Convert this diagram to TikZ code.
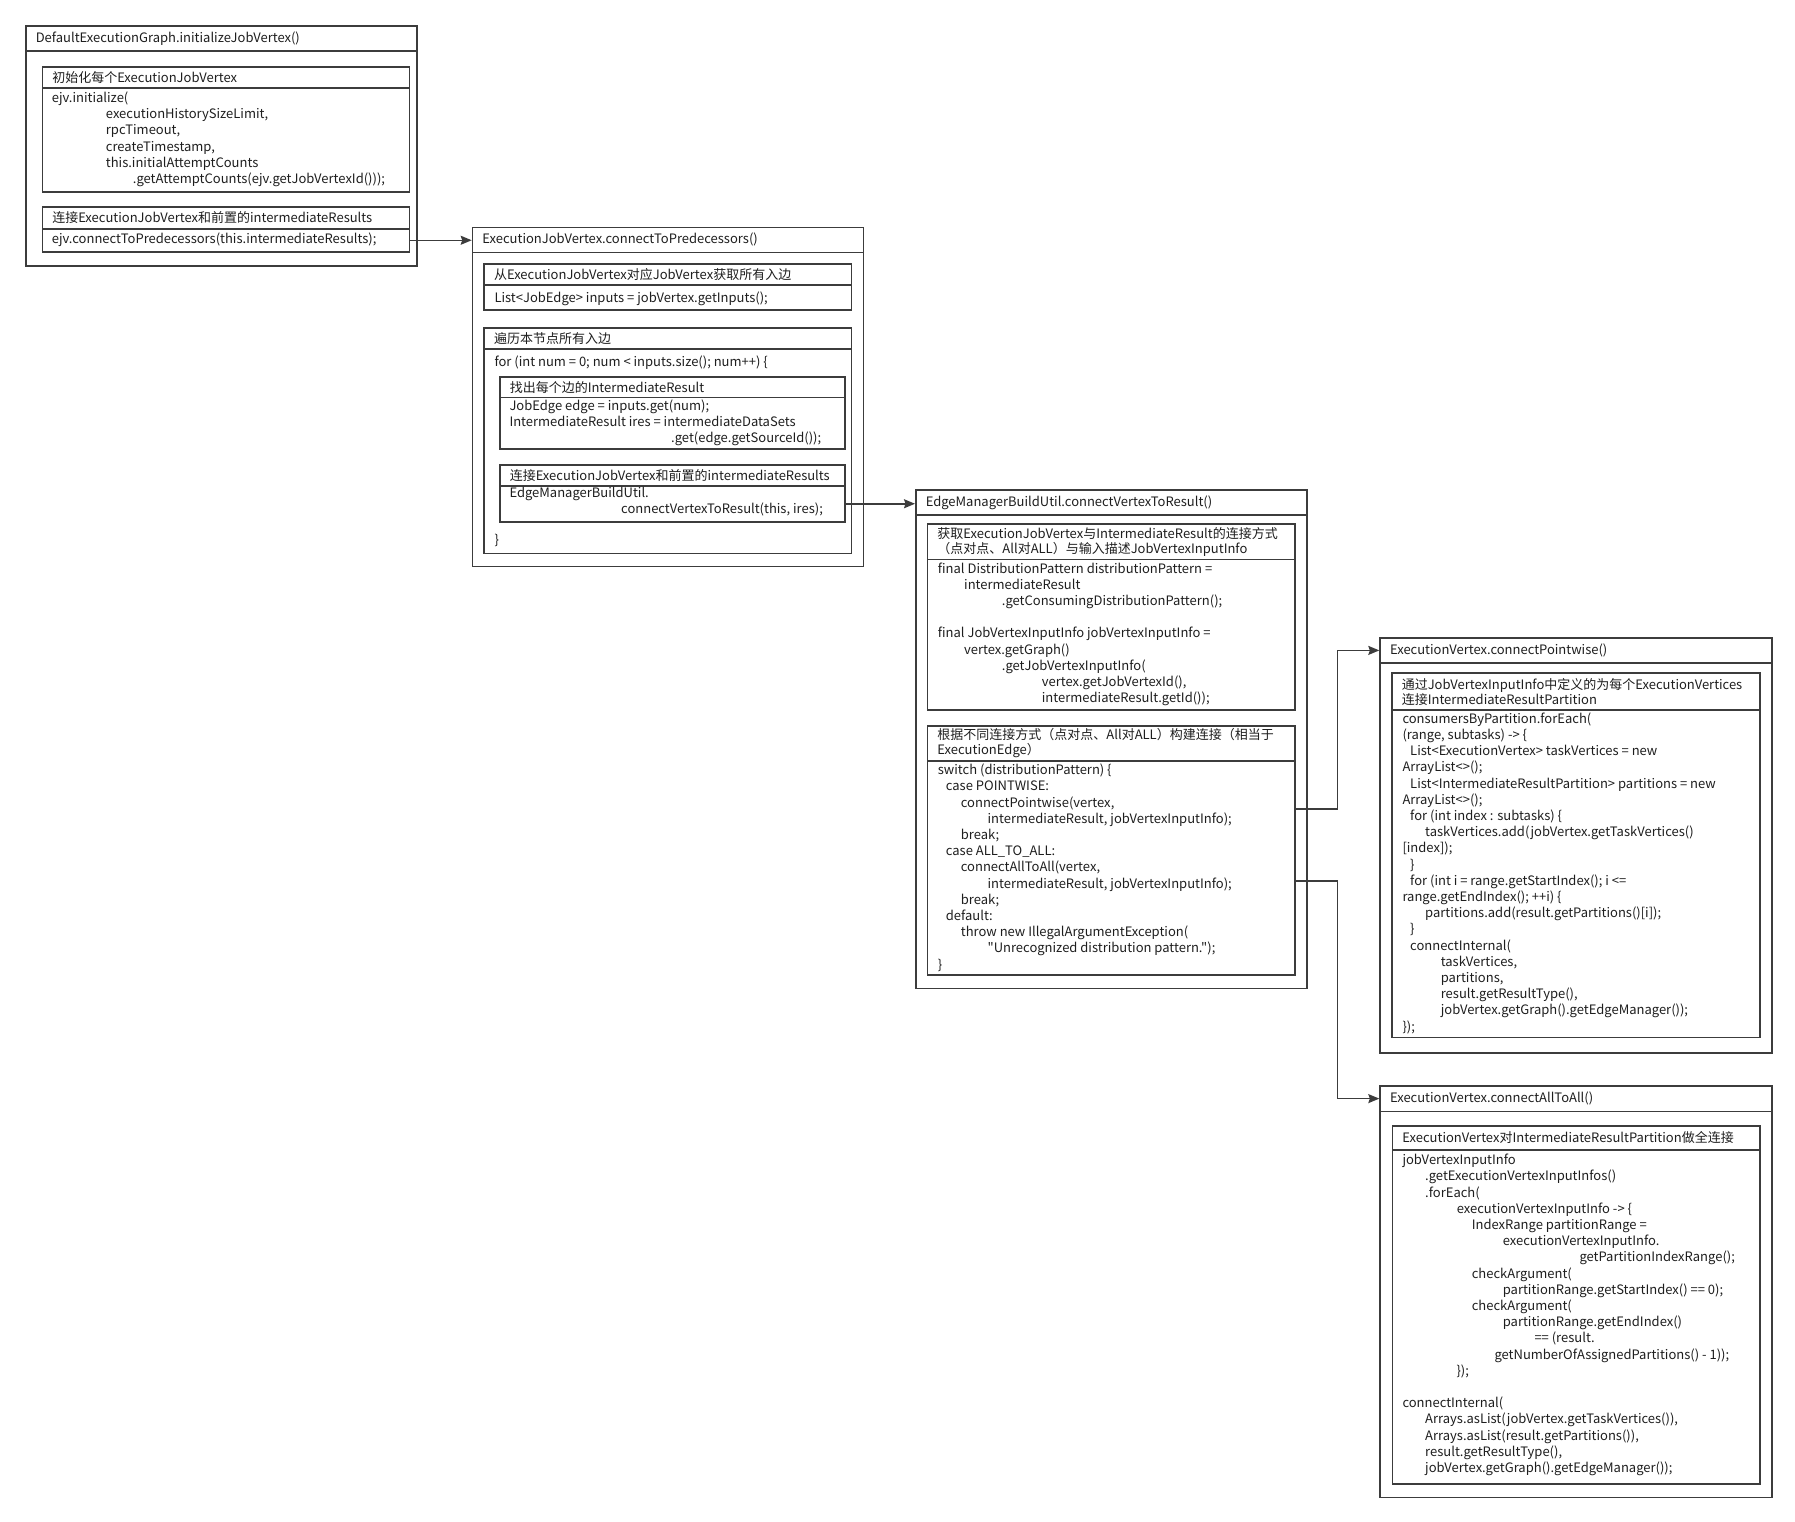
\documentclass[tikz,border=0pt]{standalone}
\usepackage{fontspec}
\setmainfont{Noto Sans CJK SC}[Ligatures=TeXOff]
\usetikzlibrary{arrows.meta}
\definecolor{linec}{HTML}{3C3C3C}
\definecolor{txtc}{HTML}{1E1E1E}
\newcommand{\indt}[1]{\hspace*{#1pt}}
\tikzset{
frame/.style={rectangle, draw=linec, line width=1.5pt, anchor=north west, inner sep=0pt},
head/.style={frame, inner xsep=10pt, inner ysep=0pt, align=left, text=txtc, font=\fontsize{13}{15}\selectfont},
code/.style={anchor=north west, yshift=11.34pt, inner sep=0pt, align=left, text=txtc, font=\fontsize{13}{16.2}\selectfont, execute at begin node=\strut},
line/.style={draw=linec, line width=1.5pt, -{Stealth[length=11pt, width=9pt, inset=1.5pt]}}
}

\begin{document}
\begin{tikzpicture}[x=1pt, y=-1pt]
    \useasboundingbox (0,0) rectangle (1795,1521);
    % initializeJobVertex
    \node [frame, minimum width=391pt, minimum height=240pt] (initjv) at (25,25) {};
    \node [head, text width=371pt, minimum height=25pt] (initjv-t) at (25,25) {DefaultExecutionGraph.initializeJobVertex()};
    \node [head, text width=347pt, minimum height=21pt] (initeach-t) at (41.5,66) {初始化每个ExecutionJobVertex};
    \node [frame, minimum width=367pt, minimum height=104pt] (initeach) at (41.5,87) {};
    \node [code] (initeach-c) at (51.7,103) {ejv.initialize(\\
        \indt{54}executionHistorySizeLimit,\\
        \indt{54}rpcTimeout,\\
        \indt{54}createTimestamp,\\
        \indt{54}this.initialAttemptCounts\\
        \indt{81}.getAttemptCounts(ejv.getJobVertexId()));};
    \node [head, text width=347pt, minimum height=22pt] (connpred-t) at (41.5,206) {连接ExecutionJobVertex和前置的intermediateResults};
    \node [frame, minimum width=367pt, minimum height=23pt] (connpred) at (41.5,228) {};
    \node [code] (connpred-c) at (51.7,243.5) {ejv.connectToPredecessors(this.intermediateResults);};

    % connectToPredecessors
    \node [frame, minimum width=391pt, minimum height=339pt] (predjv) at (471.7,226.7) {};
    \node [head, text width=371pt, minimum height=25pt] (predjv-t) at (471.7,226.7) {ExecutionJobVertex.connectToPredecessors()};
    \node [head, text width=347.4pt, minimum height=20.7pt] (inputs-t) at (483.3,263.3) {从ExecutionJobVertex对应JobVertex获取所有入边};
    \node [frame, minimum width=367.4pt, minimum height=25pt] (inputs) at (483.3,284) {};
    \node [code] (inputs-c) at (494.3,301.8) {List<JobEdge> inputs = jobVertex.getInputs();};
    \node [head, text width=347.4pt, minimum height=20.7pt] (loop-t) at (483.3,327.3) {遍历本节点所有入边};
    \node [frame, minimum width=367.4pt, minimum height=204.7pt] (loop) at (483.3,348) {};
    \node [code] (loop-c) at (494.3,366) {for (int num = 0; num < inputs.size(); num++) \{};
    \node [code] (loop-e) at (494.3,544.5) {\}};
    \node [head, text width=325.3pt, minimum height=20.7pt] (ires-t) at (499,376) {找出每个边的IntermediateResult};
    \node [frame, minimum width=345.3pt, minimum height=51.6pt] (ires) at (499,396.7) {};
    \node [code] (ires-c) at (509.3,411) {JobEdge edge = inputs.get(num);\\
        IntermediateResult ires = intermediateDataSets\\
        \indt{161.7}.get(edge.getSourceId());};
    \node [head, text width=325.3pt, minimum height=21pt] (vtores-t) at (499,464) {连接ExecutionJobVertex和前置的intermediateResults};
    \node [frame, minimum width=345.3pt, minimum height=36pt] (vtores) at (499,485) {};
    \node [code] (vtores-c) at (509.3,498.5) {EdgeManagerBuildUtil.\\
        \indt{111.7}connectVertexToResult(this, ires);};

    % connectVertexToResult
    \node [frame, minimum width=391pt, minimum height=498.4pt] (buildutil) at (915,489.3) {};
    \node [head, text width=371pt, minimum height=24.7pt] (buildutil-t) at (915,489.3) {EdgeManagerBuildUtil.connectVertexToResult()};
    \node [head, text width=347.6pt, minimum height=35.4pt] (pattern-t) at (926.7,523.3) {获取ExecutionJobVertex与IntermediateResult的连接方式\\（点对点、All对ALL）与输入描述JobVertexInputInfo};
    \node [frame, minimum width=367.6pt, minimum height=150.6pt] (pattern) at (926.7,558.7) {};
    \node [code] (pattern-c) at (937.7,573.8) {final DistributionPattern distributionPattern =\\
        \indt{26.3}intermediateResult\\
        \indt{64}.getConsumingDistributionPattern();\\
        \mbox{}\\
        final JobVertexInputInfo jobVertexInputInfo =\\
        \indt{26.3}vertex.getGraph()\\
        \indt{64}.getJobVertexInputInfo(\\
        \indt{104}vertex.getJobVertexId(),\\
        \indt{104}intermediateResult.getId());};
    \node [head, text width=347.6pt, minimum height=34.7pt] (dispatch-t) at (926.7,725.3) {根据不同连接方式（点对点、All对ALL）构建连接（相当于\\ExecutionEdge）};
    \node [frame, minimum width=367.6pt, minimum height=214.3pt] (dispatch) at (926.7,760) {};
    \node [code] (dispatch-c) at (937.7,775.2) {switch (distributionPattern) \{\\
        \indt{8}case POINTWISE:\\
        \indt{23}connectPointwise(vertex,\\
        \indt{49.7}intermediateResult, jobVertexInputInfo);\\
        \indt{23}break;\\
        \indt{8}case ALL\_TO\_ALL:\\
        \indt{23}connectAllToAll(vertex,\\
        \indt{49.7}intermediateResult, jobVertexInputInfo);\\
        \indt{23}break;\\
        \indt{8}default:\\
        \indt{23}throw new IllegalArgumentException(\\
        \indt{49.7}"Unrecognized distribution pattern.");\\
        \}};

    % connectPointwise
    \node [frame, minimum width=391.7pt, minimum height=415pt] (ptwise) at (1379.3,637.3) {};
    \node [head, text width=371.7pt, minimum height=24.7pt] (ptwise-t) at (1379.3,637.3) {ExecutionVertex.connectPointwise()};
    \node [head, text width=348pt, minimum height=37pt] (ptpart-t) at (1391,672.3) {通过JobVertexInputInfo中定义的为每个ExecutionVertices\\连接IntermediateResultPartition};
    \node [frame, minimum width=368pt, minimum height=327.4pt] (ptpart) at (1391,709.3) {};
    \node [code] (ptpart-c) at (1402.3,723.8) {consumersByPartition.forEach(\\
        (range, subtasks) -> \{\\
        \indt{7.7}List<ExecutionVertex> taskVertices = new\\
        ArrayList<>();\\
        \indt{7.7}List<IntermediateResultPartition> partitions = new\\
        ArrayList<>();\\
        \indt{7.7}for (int index : subtasks) \{\\
        \indt{22.7}taskVertices.add(jobVertex.getTaskVertices()\\
        {}[index]);\\
        \indt{7.7}\}\\
        \indt{7.7}for (int i = range.getStartIndex(); i <=\\
        range.getEndIndex(); ++i) \{\\
        \indt{22.7}partitions.add(result.getPartitions()[i]);\\
        \indt{7.7}\}\\
        \indt{7.7}connectInternal(\\
        \indt{38.3}taskVertices,\\
        \indt{38.3}partitions,\\
        \indt{38.3}result.getResultType(),\\
        \indt{38.3}jobVertex.getGraph().getEdgeManager());\\
        \});};

    % connectAllToAll
    \node [frame, minimum width=391.7pt, minimum height=411.7pt] (alltoall) at (1379.3,1085) {};
    \node [head, text width=371.7pt, minimum height=25.7pt] (alltoall-t) at (1379.3,1085) {ExecutionVertex.connectAllToAll()};
    \node [head, text width=347.3pt, minimum height=24pt] (allpart-t) at (1391.7,1125) {ExecutionVertex对IntermediateResultPartition做全连接};
    \node [frame, minimum width=367.3pt, minimum height=334.3pt] (allpart) at (1391.7,1149) {};
    \node [code] (allpart-c) at (1402.3,1165.2) {jobVertexInputInfo\\
        \indt{22.7}.getExecutionVertexInputInfos()\\
        \indt{22.7}.forEach(\\
        \indt{54.3}executionVertexInputInfo -> \{\\
        \indt{69.3}IndexRange partitionRange =\\
        \indt{100.3}executionVertexInputInfo.\\
        \indt{177}getPartitionIndexRange();\\
        \indt{69.3}checkArgument(\\
        \indt{100.3}partitionRange.getStartIndex() == 0);\\
        \indt{69.3}checkArgument(\\
        \indt{100.3}partitionRange.getEndIndex()\\
        \indt{132}== (result.\\
        \indt{92}getNumberOfAssignedPartitions() - 1));\\
        \indt{54}\});\\
        \mbox{}\\
        connectInternal(\\
        \indt{22.7}Arrays.asList(jobVertex.getTaskVertices()),\\
        \indt{22.7}Arrays.asList(result.getPartitions()),\\
        \indt{22.7}result.getResultType(),\\
        \indt{22.7}jobVertex.getGraph().getEdgeManager());};

    % Draw edges
    \path [line] (connpred.east) -- (connpred.east -| predjv-t.west);
    \path [line] (vtores.east) -- (vtores.east -| buildutil-t.west);
    \path [line] ([yshift=-49pt]dispatch.north east) -- ++(41.7,0) |- (ptwise-t.west);
    \path [line] ([yshift=-121pt]dispatch.north east) -- ++(41.7,0) |- (alltoall-t.west);
\end{tikzpicture}
\end{document}
